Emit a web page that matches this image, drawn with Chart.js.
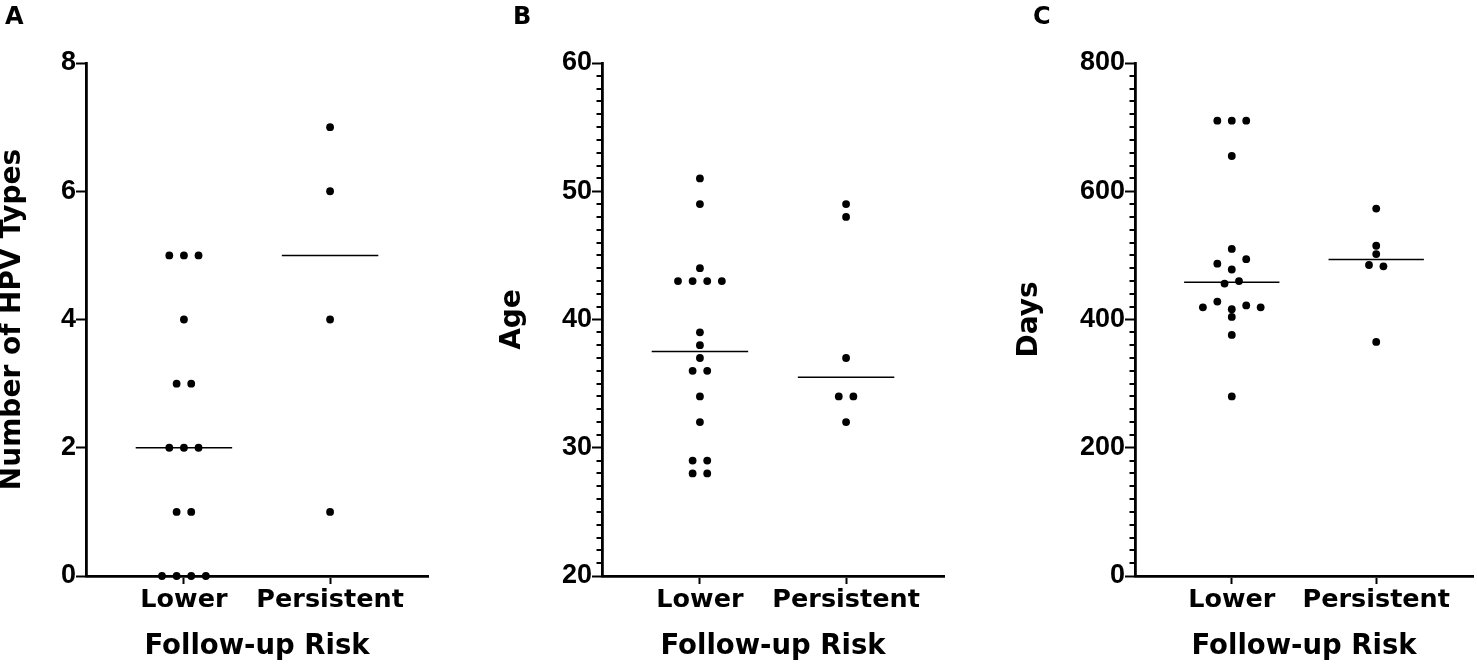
<!DOCTYPE html>
<html>
<head>
<meta charset="utf-8">
<script src="https://cdn.jsdelivr.net/npm/chart.js@4.4.1/dist/chart.umd.min.js"></script>
<style>
  html, body { margin: 0; padding: 0; background: #fff; }
  #wrap { position: relative; width: 1477px; height: 665px; overflow: hidden; }
  canvas { position: absolute; left: 0; top: 0; }
  .tag { position: absolute; top: 4px; font: bold 24px "DejaVu Sans"; line-height: 24px; color: #000; }
</style>
</head>
<body>
<div id="wrap">
  <canvas id="chartA" width="1477" height="665"></canvas>
  <canvas id="chartB" width="1477" height="665"></canvas>
  <canvas id="chartC" width="1477" height="665"></canvas>
  <div class="tag" style="left:5px">A</div>
  <div class="tag" style="left:513px">B</div>
  <div class="tag" style="left:1033px">C</div>
</div>
<script>
console.log('dot plots');

var groups = ['Lower', 'Persistent'];

var hpvLower = [5, 5, 5, 4, 3, 3, 2, 2, 2, 1, 1, 0, 0, 0, 0];
var hpvPersistent = [7, 6, 4, 1];
var hpvTicks = [0, 2, 4, 6, 8];

var ageLower = [51, 49, 44, 43, 43, 43, 43, 39, 38, 37, 36, 36, 34, 32, 29, 29, 28, 28];
var agePersistent = [49, 48, 37, 34, 34, 32];
var ageTicks = [20, 30, 40, 50, 60];

var daysLower = [710, 710, 710, 655, 510, 478, 487, 494, 456, 460, 416, 428, 422, 419, 419, 404, 376, 280];
var daysPersistent = [573, 515, 502, 485, 483, 365];
var daysTicks = [0, 200, 400, 600, 800];

var font = 'DejaVu Sans';
var numFont = 'Liberation Sans';

var median = function(values) {
  var s = values.slice().sort(function(a, b) { return a - b; });
  var m = Math.floor(s.length / 2);
  return s.length % 2 ? s[m] : (s[m - 1] + s[m]) / 2;
};

// values closer than about one dot get put side by side, like prism does
var swarm = function(values, center, range) {
  var gap = 7 * range / 513;
  var order = values.map(function(v, i) { return i; });
  order.sort(function(a, b) { return values[a] - values[b] || a - b; });

  var runs = [];
  var run = [order[0]];
  for (var k = 1; k < order.length; k++) {
    if (values[order[k]] - values[order[k - 1]] < gap) {
      run.push(order[k]);
    } else {
      runs.push(run);
      run = [order[k]];
    }
  }
  runs.push(run);

  var pts = [];
  runs.forEach(function(r) {
    r.sort(function(a, b) { return a - b; });
    var n = r.length;
    r.forEach(function(idx, j) {
      var slot;
      if (n % 2) {
        slot = j === 0 ? 0 : (j % 2 ? -(j + 1) / 2 : j / 2);
      } else {
        slot = (j % 2 ? 1 : -1) * (Math.floor(j / 2) + 0.5);
      }
      pts.push({ x: center + slot * 0.1, y: values[idx] });
    });
  });
  return pts;
};

var makePanel = function(id, lower, persistent, ticks, minorStep, yTitle, box) {
  var lo = ticks[0];
  var hi = ticks[ticks.length - 1];
  var range = hi - lo;
  var padLeft = box.titleX - 12.6;

  var dots = function(values, center) {
    return {
      type: 'scatter',
      data: swarm(values, center, range),
      pointRadius: 3.9,
      pointBackgroundColor: '#000',
      pointBorderWidth: 0,
      clip: false
    };
  };
  var medianLine = function(values, center) {
    var m = median(values);
    return {
      type: 'line',
      data: [{ x: center - 0.33, y: m }, { x: center + 0.33, y: m }],
      borderColor: '#000',
      borderWidth: 1.5,
      pointRadius: 0,
      clip: false
    };
  };

  var minorTicks = {
    id: 'minorTicks',
    afterDraw: function(chart) {
      if (!minorStep) return;
      var y = chart.scales.y;
      var c = chart.ctx;
      var left = chart.chartArea.left;
      c.save();
      c.strokeStyle = '#000';
      c.lineWidth = 2;
      for (var v = lo; v <= hi; v += minorStep) {
        if (ticks.indexOf(v) >= 0) continue;
        var py = Math.round(y.getPixelForValue(v));
        c.beginPath();
        c.moveTo(left - 5.5, py);
        c.lineTo(left, py);
        c.stroke();
      }
      c.restore();
    }
  };

  return new Chart(document.getElementById(id), {
    type: 'scatter',
    data: {
      datasets: [
        dots(lower, 1),
        dots(persistent, 2),
        medianLine(lower, 1),
        medianLine(persistent, 2)
      ]
    },
    plugins: [minorTicks],
    options: {
      responsive: false,
      animation: false,
      events: [],
      layout: { padding: { left: padLeft, right: 1477 - box.axisEnd, top: 63, bottom: 0 } },
      plugins: { legend: { display: false }, tooltip: { enabled: false } },
      scales: {
        x: {
          type: 'linear',
          min: 0.33,
          max: 2.67,
          afterBuildTicks: function(s) { s.ticks = [{ value: 1 }, { value: 2 }]; },
          afterFit: function(s) { s.height = 89; },
          border: { color: '#000', width: 2.8 },
          grid: { drawOnChartArea: false, drawTicks: true, tickLength: 8, tickWidth: 2, color: '#000', tickColor: '#000' },
          ticks: {
            color: '#000',
            font: { family: font, weight: 'bold', size: 25.5 },
            padding: 1,
            maxRotation: 0,
            autoSkip: false,
            callback: function(v) { return groups[v - 1]; }
          },
          title: {
            display: true,
            text: 'Follow-up Risk',
            color: '#000',
            font: { family: font, weight: 'bold', size: 27.5, lineHeight: 1.2 },
            padding: { top: 0, bottom: 2 }
          }
        },
        y: {
          min: lo,
          max: hi,
          afterBuildTicks: function(s) { s.ticks = ticks.map(function(v) { return { value: v }; }); },
          afterFit: function(s) { s.width = box.axisX - padLeft; },
          border: { color: '#000', width: 2.8 },
          grid: { drawOnChartArea: false, drawTicks: true, tickLength: 10, tickWidth: 2, color: '#000', tickColor: '#000' },
          ticks: {
            color: '#000',
            font: { family: numFont, weight: 'bold', size: 27 },
            padding: 0
          },
          title: {
            display: true,
            text: yTitle,
            color: '#000',
            font: { family: font, weight: 'bold', size: 28, lineHeight: 0.9 },
            padding: { top: 0, bottom: 0 }
          }
        }
      }
    }
  });
};

window.onload = function() {
  makePanel('chartA', hpvLower, hpvPersistent, hpvTicks, 0, 'Number of HPV Types', { titleX: 12.5, axisX: 86, axisEnd: 428 });
  makePanel('chartB', ageLower, agePersistent, ageTicks, 1, 'Age', { titleX: 513, axisX: 602, axisEnd: 944 });
  makePanel('chartC', daysLower, daysPersistent, daysTicks, 20, 'Days', { titleX: 1030, axisX: 1135, axisEnd: 1477 });
};
</script>
</body>
</html>
